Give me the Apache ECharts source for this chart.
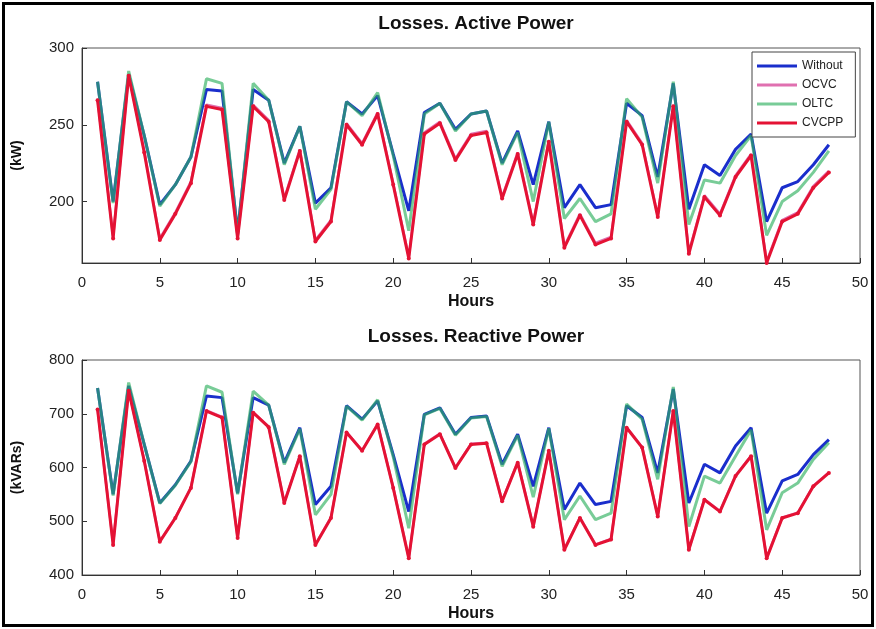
<!DOCTYPE html>
<html>
<head>
<meta charset="utf-8">
<script src="https://cdn.jsdelivr.net/npm/echarts@6/dist/echarts.min.js"></script>
<style>
  html, body { margin: 0; padding: 0; background: #fff; }
  #wrap { position: relative; width: 876px; height: 629px; }
  #main { position: absolute; left: 0; top: 0; width: 876px; height: 629px; }
  #frame { position: absolute; left: 2px; top: 2px; width: 866px; height: 619px; border: 3px solid #000; pointer-events: none; }
</style>
</head>
<body>
<div id="wrap">
  <div id="main"></div>
  <div id="frame"></div>
</div>
<script>
// hours 1..48
var hours = [];
for (var h = 1; h <= 48; h++) hours.push(h);

var seriesNames = ['Without', 'OCVC', 'OLTC', 'CVCPP'];

// Losses, active power (kW)
var pWithout = [278, 200, 283, 243, 198, 211, 229, 273, 272, 180, 273, 266, 225, 249, 199, 209, 265, 257, 269, 231, 194, 258, 264, 247,
  257, 259, 225, 246, 211, 252, 196, 211, 196, 198, 264, 256, 216, 277, 195, 224, 217, 234, 244, 187, 209, 213, 224, 237];
var pOCVC = [267, 177, 283, 233, 176, 193, 213, 263, 261, 177, 263, 253, 202, 234, 175, 188, 251, 238, 258, 212, 164, 245, 252, 228,
  244, 246, 203, 232, 186, 240, 171, 192, 173, 177, 253, 238, 191, 263, 167, 204, 192, 217, 231, 161, 188, 193, 210, 220];
var pOLTC = [278, 199, 285, 243, 197, 211, 229, 280, 277, 179, 277, 266, 224, 249, 195, 208, 265, 256, 271, 230, 181, 257, 264, 246,
  257, 259, 224, 245, 200, 252, 189, 202, 187, 192, 267, 255, 212, 278, 185, 214, 212, 230, 243, 178, 200, 207, 219, 233];
var pCVCPP = [266, 176, 282, 232, 175, 192, 212, 262, 260, 176, 262, 252, 201, 233, 174, 187, 250, 237, 257, 211, 163, 244, 251, 227,
  243, 245, 202, 231, 185, 239, 170, 191, 172, 176, 252, 237, 190, 262, 166, 203, 191, 216, 230, 160, 187, 192, 209, 219];

// Losses, reactive power (kVARs)
var qWithout = [748, 550, 752, 643, 534, 568, 612, 733, 730, 552, 730, 716, 609, 674, 531, 565, 715, 690, 724, 624, 518, 699, 711, 662,
  693, 696, 606, 662, 565, 674, 522, 571, 531, 537, 715, 693, 590, 746, 534, 606, 590, 640, 674, 515, 575, 587, 624, 652];
var qOCVC = [709, 458, 744, 613, 463, 507, 563, 706, 694, 470, 703, 676, 535, 622, 457, 507, 666, 632, 681, 563, 432, 644, 663, 600,
  644, 646, 538, 610, 491, 632, 448, 507, 457, 467, 675, 638, 510, 706, 448, 541, 519, 585, 622, 432, 507, 516, 566, 591];
var qOLTC = [748, 548, 758, 643, 533, 567, 611, 752, 740, 550, 742, 716, 606, 672, 512, 550, 714, 688, 726, 620, 487, 698, 710, 660,
  692, 695, 602, 660, 545, 673, 503, 547, 503, 515, 718, 690, 578, 750, 490, 584, 571, 621, 670, 484, 553, 571, 615, 646];
var qCVCPP = [708, 456, 743, 612, 462, 506, 562, 705, 693, 469, 702, 675, 534, 621, 456, 506, 665, 631, 680, 562, 431, 643, 662, 599,
  643, 645, 537, 609, 490, 631, 447, 506, 456, 466, 674, 637, 509, 705, 447, 540, 518, 584, 621, 431, 506, 515, 565, 590];

var pTicks = [200, 250, 300];
var qTicks = [400, 500, 600, 700, 800];

function pairs(vals) {
  return vals.map(function (v, i) { return [hours[i], v]; });
}

var fontFam = 'Liberation Sans, Arial, sans-serif';
var styles = {
  Without: { color: '#1a2ecc', width: 3, opacity: 1, symbol: 'none' },
  OCVC: { color: '#e070b0', width: 2.5, opacity: 1, symbol: 'none' },
  OLTC: { color: '#2fb060', width: 3, opacity: 0.65, symbol: 'none' },
  CVCPP: { color: '#e41234', width: 3, opacity: 1, symbol: 'circle' }
};

function mkSeries(name, data, idx) {
  var s = styles[name];
  return {
    name: name,
    type: 'line',
    xAxisIndex: idx,
    yAxisIndex: idx,
    data: pairs(data),
    symbol: s.symbol,
    symbolSize: 4,
    showSymbol: s.symbol !== 'none',
    itemStyle: { color: s.color, opacity: s.opacity },
    lineStyle: { color: s.color, width: s.width, opacity: s.opacity },
    animation: false
  };
}

function xAx(idx) {
  return {
    type: 'value', gridIndex: idx, min: 0, max: 50, interval: 5,
    name: 'Hours', nameLocation: 'middle', nameGap: 31,
    nameTextStyle: { fontFamily: fontFam, fontSize: 16, fontWeight: 'bold', color: '#111' },
    axisLine: { show: true, lineStyle: { color: '#333' } },
    axisTick: { show: true, inside: true, length: 5, lineStyle: { color: '#333' } },
    axisLabel: { fontFamily: fontFam, fontSize: 15, color: '#222', margin: 12 },
    splitLine: { show: false }
  };
}

function yAx(idx, min, max, ticks, name) {
  return {
    type: 'value', gridIndex: idx, min: min, max: max,
    name: name, nameLocation: 'middle', nameGap: 58, nameRotate: 90,
    nameTextStyle: { fontFamily: fontFam, fontSize: 14, fontWeight: 'bold', color: '#111' },
    axisLine: { show: true, lineStyle: { color: '#333' } },
    axisTick: { show: true, inside: true, length: 5, customValues: ticks, lineStyle: { color: '#333' } },
    axisLabel: { fontFamily: fontFam, fontSize: 15, color: '#222', margin: 8, customValues: ticks },
    splitLine: { show: false }
  };
}

var myChart = echarts.init(document.getElementById('main'), null, { renderer: 'canvas' });
myChart.setOption({
  backgroundColor: '#fff',
  title: [
    { text: 'Losses. Active Power', left: 471, top: 9, textAlign: 'center',
      textStyle: { fontFamily: fontFam, fontSize: 19, fontWeight: 'bold', color: '#111' } },
    { text: 'Losses. Reactive Power', left: 471, top: 322, textAlign: 'center',
      textStyle: { fontFamily: fontFam, fontSize: 19, fontWeight: 'bold', color: '#111' } }
  ],
  grid: [
    { left: 82, right: 16, top: 48, height: 215, show: true, borderColor: '#555', borderWidth: 1, backgroundColor: '#fff' },
    { left: 82, right: 16, top: 360, height: 215, show: true, borderColor: '#555', borderWidth: 1, backgroundColor: '#fff' }
  ],
  legend: {
    data: seriesNames.map(function (n) { return { name: n, icon: 'rect' }; }),
    orient: 'vertical',
    left: 752, top: 52,
    itemWidth: 40, itemHeight: 3, itemGap: 7,
    padding: [8, 12, 8, 5],
    backgroundColor: '#fff',
    borderColor: '#444', borderWidth: 1,
    textStyle: { fontFamily: fontFam, fontSize: 12, color: '#222' }
  },
  xAxis: [xAx(0), xAx(1)],
  yAxis: [yAx(0, 160, 300, pTicks, '(kW)'), yAx(1, 400, 800, qTicks, '(kVARs)')],
  series: [
    mkSeries('Without', pWithout, 0),
    mkSeries('OCVC', pOCVC, 0),
    mkSeries('OLTC', pOLTC, 0),
    mkSeries('CVCPP', pCVCPP, 0),
    mkSeries('Without', qWithout, 1),
    mkSeries('OCVC', qOCVC, 1),
    mkSeries('OLTC', qOLTC, 1),
    mkSeries('CVCPP', qCVCPP, 1)
  ]
});
</script>
</body>
</html>
